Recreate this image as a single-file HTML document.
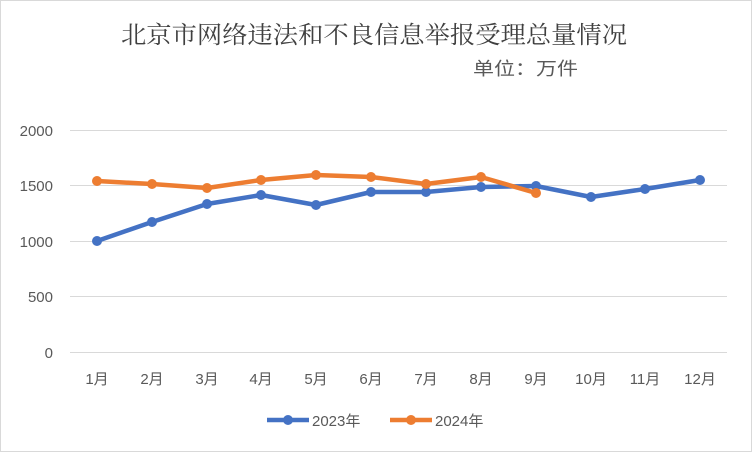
<!DOCTYPE html>
<html><head><meta charset="utf-8"><style>
body{margin:0;background:#fff}
svg{display:block;font-family:"Liberation Sans","Noto Sans CJK SC",sans-serif}
</style></head><body>
<svg width="752" height="452" viewBox="0 0 752 452">
<rect x="0.5" y="0.5" width="751" height="451" fill="#fff" stroke="#d9d9d9"/>
<text x="121" y="43" font-size="24" fill="#404040" textLength="506" lengthAdjust="spacingAndGlyphs" font-family="'Noto Serif CJK SC','Noto Sans CJK SC',serif">北京市网络违法和不良信息举报受理总量情况</text>
<text x="473" y="75" font-size="18" fill="#595959" textLength="105" lengthAdjust="spacingAndGlyphs">单位：万件</text>
<g stroke="#d9d9d9" stroke-width="1">
<line x1="70" y1="130.5" x2="727" y2="130.5"/>
<line x1="70" y1="185.5" x2="727" y2="185.5"/>
<line x1="70" y1="241.5" x2="727" y2="241.5"/>
<line x1="70" y1="296.5" x2="727" y2="296.5"/>
<line x1="70" y1="352.5" x2="727" y2="352.5"/>
</g>
<g font-size="15" fill="#595959" text-anchor="end">
<text x="53" y="136">2000</text><text x="53" y="191">1500</text><text x="53" y="247">1000</text><text x="53" y="302">500</text><text x="53" y="358">0</text>
</g>
<g font-size="15" fill="#595959" text-anchor="middle">
<text x="97" y="384">1月</text><text x="152" y="384">2月</text><text x="207" y="384">3月</text><text x="261" y="384">4月</text><text x="316" y="384">5月</text><text x="371" y="384">6月</text><text x="426" y="384">7月</text><text x="481" y="384">8月</text><text x="536" y="384">9月</text><text x="591" y="384">10月</text><text x="645" y="384">11月</text><text x="700" y="384">12月</text>
</g>
<polyline fill="none" stroke="#4472c4" stroke-width="4.5" stroke-linejoin="round" points="97,241 152,222 207,204 261,195 316,205 371,192 426,192 481,187 536,186 591,197 645,189 700,180"/>
<g fill="#4472c4">
<circle cx="97" cy="241" r="5"/><circle cx="152" cy="222" r="5"/><circle cx="207" cy="204" r="5"/><circle cx="261" cy="195" r="5"/><circle cx="316" cy="205" r="5"/><circle cx="371" cy="192" r="5"/><circle cx="426" cy="192" r="5"/><circle cx="481" cy="187" r="5"/><circle cx="536" cy="186" r="5"/><circle cx="591" cy="197" r="5"/><circle cx="645" cy="189" r="5"/><circle cx="700" cy="180" r="5"/>
</g>
<polyline fill="none" stroke="#ed7d31" stroke-width="4.5" stroke-linejoin="round" points="97,181 152,184 207,188 261,180 316,175 371,177 426,184 481,177 536,193"/>
<g fill="#ed7d31">
<circle cx="97" cy="181" r="5"/><circle cx="152" cy="184" r="5"/><circle cx="207" cy="188" r="5"/><circle cx="261" cy="180" r="5"/><circle cx="316" cy="175" r="5"/><circle cx="371" cy="177" r="5"/><circle cx="426" cy="184" r="5"/><circle cx="481" cy="177" r="5"/><circle cx="536" cy="193" r="5"/>
</g>
<line x1="267" y1="420" x2="309" y2="420" stroke="#4472c4" stroke-width="4.5"/>
<circle cx="288" cy="420" r="5" fill="#4472c4"/>
<text x="312" y="426" font-size="15" fill="#595959">2023年</text>
<line x1="390" y1="420" x2="432" y2="420" stroke="#ed7d31" stroke-width="4.5"/>
<circle cx="411" cy="420" r="5" fill="#ed7d31"/>
<text x="435" y="426" font-size="15" fill="#595959">2024年</text>
</svg>
</body></html>
